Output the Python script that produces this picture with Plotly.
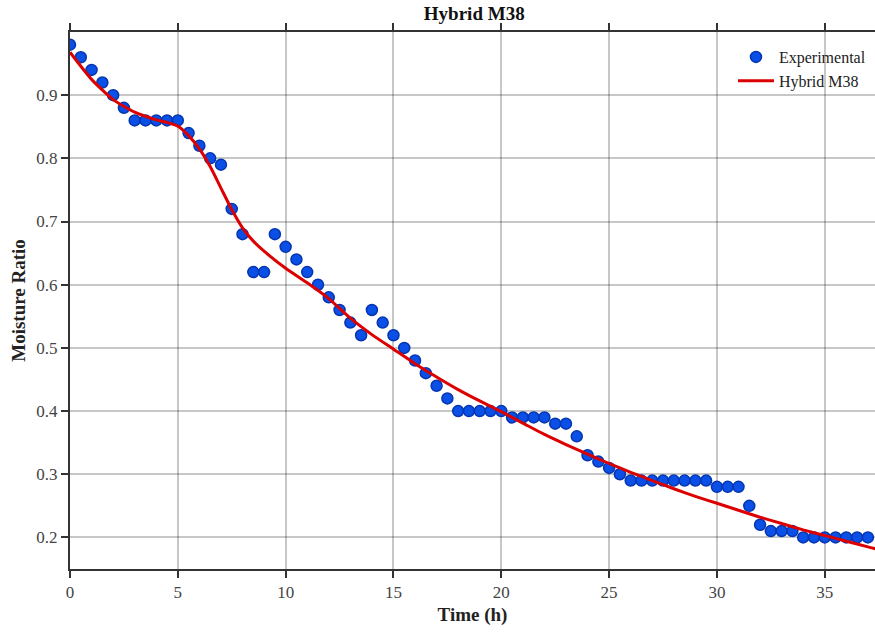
import plotly.graph_objects as go

# Measured moisture ratio, sampled every half hour
time_h = [0, 0.5, 1, 1.5, 2, 2.5, 3, 3.5, 4, 4.5, 5, 5.5, 6, 6.5, 7, 7.5, 8, 8.5, 9, 9.5,
          10, 10.5, 11, 11.5, 12, 12.5, 13, 13.5, 14, 14.5, 15, 15.5, 16, 16.5, 17, 17.5,
          18, 18.5, 19, 19.5, 20, 20.5, 21, 21.5, 22, 22.5, 23, 23.5, 24, 24.5, 25, 25.5,
          26, 26.5, 27, 27.5, 28, 28.5, 29, 29.5, 30, 30.5, 31, 31.5, 32, 32.5, 33, 33.5,
          34, 34.5, 35, 35.5, 36, 36.5, 37]
mr_exp = [0.98, 0.96, 0.94, 0.92, 0.90, 0.88, 0.86, 0.86, 0.86, 0.86, 0.86, 0.84, 0.82, 0.80,
          0.79, 0.72, 0.68, 0.62, 0.62, 0.68, 0.66, 0.64, 0.62, 0.60, 0.58, 0.56, 0.54, 0.52,
          0.56, 0.54, 0.52, 0.50, 0.48, 0.46, 0.44, 0.42, 0.40, 0.40, 0.40, 0.40, 0.40, 0.39,
          0.39, 0.39, 0.39, 0.38, 0.38, 0.36, 0.33, 0.32, 0.31, 0.30, 0.29, 0.29, 0.29, 0.29,
          0.29, 0.29, 0.29, 0.29, 0.28, 0.28, 0.28, 0.25, 0.22, 0.21, 0.21, 0.21, 0.20, 0.20,
          0.20, 0.20, 0.20, 0.20, 0.20]

# Hybrid M38 model prediction
model_t = [0, 1, 2, 3, 4, 4.5, 5, 5.5, 6, 6.5, 7, 7.5, 8, 8.5, 9, 10, 11, 12, 13, 14, 15, 16,
           17, 18, 19, 20, 21, 22, 23, 24, 25, 26, 27, 28, 29, 30, 31, 32, 33, 34, 35, 36,
           37, 38]
model_mr = [0.968, 0.925, 0.893, 0.873, 0.861, 0.857, 0.851, 0.836, 0.815, 0.787, 0.753,
            0.719, 0.690, 0.669, 0.653, 0.626, 0.603, 0.578, 0.547, 0.521, 0.498, 0.475,
            0.454, 0.434, 0.416, 0.399, 0.381, 0.363, 0.347, 0.332, 0.317, 0.303, 0.290,
            0.277, 0.265, 0.254, 0.243, 0.232, 0.222, 0.212, 0.203, 0.194, 0.185, 0.177]

x_ticks = [0, 5, 10, 15, 20, 25, 30, 35]
y_ticks = [0.2, 0.3, 0.4, 0.5, 0.6, 0.7, 0.8, 0.9]

FONT = "Liberation Serif, Times New Roman, serif"

fig = go.Figure()
fig.add_trace(go.Scatter(
    x=time_h, y=mr_exp, mode="markers", name="Experimental",
    marker=dict(size=11, color="#0a4fe6", line=dict(color="#0535b0", width=1.5)),
))
fig.add_trace(go.Scatter(
    x=model_t, y=model_mr, mode="lines", name="Hybrid M38",
    line=dict(color="#dd0000", width=3, shape="spline", smoothing=0.6),
))

axis_common = dict(
    showline=True, linecolor="#333333", linewidth=2,
    ticks="outside", ticklen=7, tickwidth=2, tickcolor="#333333",
    showgrid=True, gridcolor="rgba(0,0,0,0.22)", gridwidth=1.6,
    zeroline=False,
    tickfont=dict(family=FONT, size=17, color="#444444"),
)

fig.update_layout(
    width=875, height=632,
    margin=dict(l=70, r=0, t=32, b=63),
    paper_bgcolor="white", plot_bgcolor="white",
    title=dict(text="<b>Hybrid M38</b>", x=0.542, xanchor="center", y=0.99, yanchor="top",
               font=dict(family=FONT, size=19, color="#111111")),
    xaxis=dict(range=[0, 37.33], tickvals=x_ticks, mirror="ticks",
               title=dict(text="<b>Time (h)</b>", standoff=6,
                          font=dict(family=FONT, size=19, color="#222222")),
               **axis_common),
    yaxis=dict(range=[0.15, 1.0], tickvals=y_ticks, tickformat=".1f",
               title=dict(text="<b>Moisture Ratio</b>", standoff=6,
                          font=dict(family=FONT, size=19, color="#222222")),
               **axis_common),
    legend=dict(x=0.995, y=0.985, xanchor="right", yanchor="top",
                bgcolor="rgba(0,0,0,0)", borderwidth=0,
                font=dict(family=FONT, size=16, color="#222222"),
                itemwidth=36, tracegroupgap=0),
    showlegend=True,
)

fig.write_html("out.html")
